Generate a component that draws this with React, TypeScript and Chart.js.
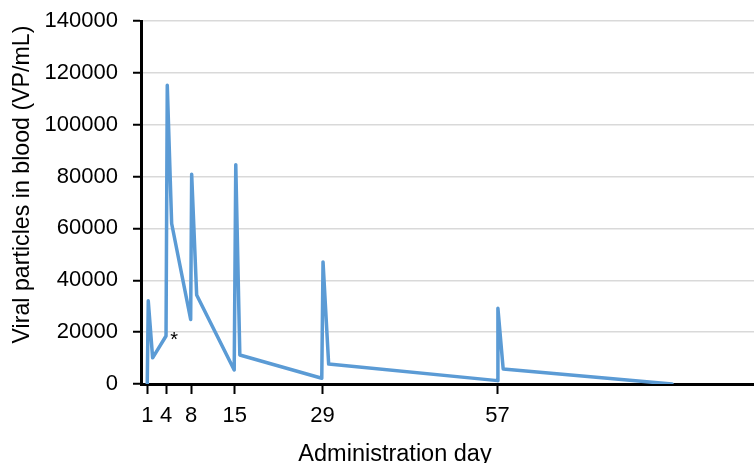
import React, { useEffect, useRef } from "react";
import { Chart, registerables } from "chart.js";

Chart.register(...registerables);

// Administration day of each measurement
const days: number[] = [1, 1.16, 1.86, 4, 4.2, 4.9, 7.94, 8.1, 8.9, 14.9, 15.15, 15.8, 28.9, 29.1, 30, 57, 57.06, 57.9, 84.9];
// Viral particles in blood (VP/mL)
const viralParticles: number[] = [0, 32100, 10100, 18500, 115200, 61900, 24900, 80900, 34300, 5400, 84600, 11200, 2200, 47100, 7700, 1300, 29200, 5800, 0];
// Labelled administration days on the x axis
const tickDays: number[] = [1, 4, 8, 15, 29, 57];
const xMin = 0;
const xMax = 98;
const yMin = 0;
const yMax = 140000;
const yStep = 20000;
// Annotation
const noteText = "*";
const noteDay = 5.3;
const noteValue = 14500;

const xTitle = "Administration day";
const yTitle = "Viral particles in blood (VP/mL)";

const FONT = "'Liberation Sans', Arial, Helvetica, sans-serif";

export default function App() {
  const ref = useRef<HTMLCanvasElement | null>(null);

  useEffect(() => {
    const canvas = ref.current;
    if (!canvas) return;

    const overlay = {
      id: "overlay",
      afterDraw(chart: any) {
        const ctx = chart.ctx;
        const area = chart.chartArea;
        const xs = chart.scales.x;
        const ys = chart.scales.y;
        ctx.save();
        ctx.fillStyle = "#000";
        // asterisk note
        ctx.font = `20px ${FONT}`;
        ctx.textAlign = "center";
        ctx.textBaseline = "alphabetic";
        ctx.fillText(noteText, xs.getPixelForValue(noteDay), ys.getPixelForValue(noteValue));
        // x title
        ctx.font = `23.5px ${FONT}`;
        ctx.textAlign = "center";
        ctx.textBaseline = "alphabetic";
        ctx.fillText(xTitle, area.left + 254, area.bottom + 77);
        // y title
        ctx.font = `23.2px ${FONT}`;
        ctx.translate(23, (area.top + area.bottom) / 2 - 18);
        ctx.rotate(-Math.PI / 2);
        ctx.textBaseline = "middle";
        ctx.fillText(yTitle, 0, 0);
        ctx.restore();
      },
    };

    const chart = new Chart(canvas, {
      type: "line",
      data: {
        datasets: [
          {
            data: days.map((d, i) => ({ x: d, y: viralParticles[i] })),
            borderColor: "#5b9bd5",
            backgroundColor: "#5b9bd5",
            borderWidth: 3.5,
            pointRadius: 0,
            tension: 0,
            borderJoinStyle: "round",
            borderCapStyle: "round",
            fill: false,
          },
        ],
      },
      options: {
        animation: false,
        responsive: false,
        maintainAspectRatio: false,
        layout: { padding: { top: 21, left: 0, right: 0, bottom: 0 } },
        plugins: {
          legend: { display: false },
          tooltip: { enabled: false },
          title: { display: false },
        },
        scales: {
          x: {
            type: "linear",
            min: xMin,
            max: xMax,
            afterBuildTicks: (scale: any) => {
              scale.ticks = tickDays.map((v) => ({ value: v }));
            },
            afterFit: (scale: any) => {
              scale.height = 79;
              scale.paddingRight = 0;
            },
            grid: {
              display: true,
              drawOnChartArea: false,
              drawTicks: true,
              tickLength: 10,
              tickColor: "#000",
              tickWidth: 2,
              color: "#000",
            },
            border: { display: true, color: "#000", width: 3 },
            ticks: {
              autoSkip: false,
              maxRotation: 0,
              color: "#000",
              padding: 9,
              font: { family: FONT, size: 22 },
            },
          },
          y: {
            type: "linear",
            min: yMin,
            max: yMax,
            ticks: {
              stepSize: yStep,
              color: "#000",
              padding: 15,
              font: { family: FONT, size: 22 },
              callback: (v: any) => String(v),
            },
            afterFit: (scale: any) => {
              scale.width = 141;
              scale.paddingTop = 0;
              scale.paddingBottom = 0;
            },
            grid: {
              color: "#d9d9d9",
              lineWidth: 1.5,
              drawTicks: true,
              tickLength: 8,
              tickColor: "#000",
              tickWidth: 2,
            },
            border: { display: true, color: "#000", width: 3 },
          },
        },
      },
      plugins: [overlay],
    } as any);

    return () => chart.destroy();
  }, []);

  return (
    <div style={{ position: "fixed", left: 0, top: 0, width: 754, height: 463, background: "#fff" }}>
      <canvas ref={ref} width={754} height={463} style={{ display: "block" }} />
    </div>
  );
}
